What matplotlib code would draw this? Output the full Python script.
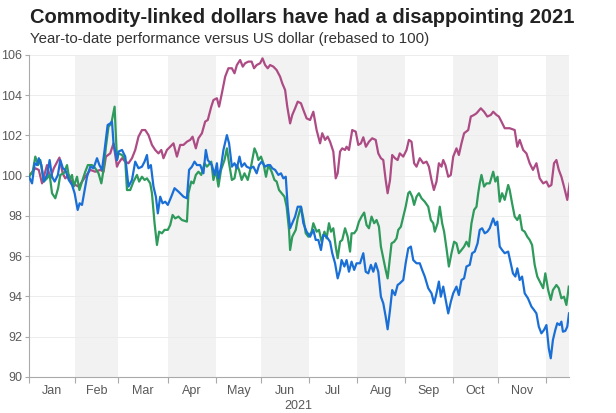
import numpy as np
import matplotlib
matplotlib.use("Agg")
import matplotlib.pyplot as plt

# x values are trading-day indices counted from 1 Jan 2021 (weekdays only)
MONTHS = ["Jan", "Feb", "Mar", "Apr", "May", "Jun", "Jul", "Aug", "Sep", "Oct", "Nov"]
MONTH_STARTS = ["2021-01-01", "2021-02-01", "2021-03-01", "2021-04-01", "2021-05-01",
                "2021-06-01", "2021-07-01", "2021-08-01", "2021-09-01", "2021-10-01",
                "2021-11-01", "2021-12-01"]
X_END = 248.6
Y_TICKS = [90, 92, 94, 96, 98, 100, 102, 104, 106]

mag_x = [0, 2.9, 4.5, 6.0, 8.3, 9.8, 11.4, 14.0, 15.5, 16.7, 18.3, 19.8, 21.3, 22.9, 24.4,
         25.9, 28.2, 30.5, 32.8, 34.3, 35.4, 37.4, 38.9, 40.5,
         41.2, 42.8, 44.3, 45.8, 47.4, 48.9, 50.4, 52.0, 53.5, 55.0, 56.6, 58.1, 59.6, 60.9,
         61.9, 63.5, 65.0, 66.5, 68.1, 69.6, 71.1, 72.7, 74.2, 75.3, 76.8, 78.0, 79.6, 81.1, 82.3,
         83.9, 84.9, 86.5, 87.5, 88.8, 90.3, 91.8, 93.4, 94.6, 95.7, 97.2, 98.4, 99.5, 101.0,
         102.5, 103.6, 104.8, 106.4, 107.5, 108.7, 109.9, 111.0, 112.5, 114.0, 115.6, 116.6,
         117.9, 118.9, 120.2, 121.2, 122.5, 123.7,
         125.2, 126.3, 127.8, 129.4, 130.9, 131.7, 132.4, 134.0, 135.0, 136.3, 137.5, 138.6,
         140.1, 141.2, 142.1, 143.2, 144.2, 145.5, 146.2, 147.3, 148.8, 150.4, 151.6, 152.8,
         153.9, 155.1, 156.5, 158.0, 159.6, 160.8, 162.0, 163.1, 164.2, 165.1,
         166.2, 167.2, 168.5, 169.7, 170.7, 172.3, 173.8, 174.9, 176.1, 177.3, 178.4, 179.9,
         181.5, 183.0, 184.1, 185.3, 186.4, 187.6, 188.7, 189.9, 190.7, 191.7, 193.0, 194.2,
         195.3, 196.8, 197.9, 199.1, 200.3, 202.2, 203.4, 204.9, 206.0,
         208.0, 209.5, 211.0, 212.6, 213.7, 215.2, 216.3, 217.5, 219.0, 221.3, 223.6, 224.8,
         225.9, 227.5, 229.0, 230.5, 232.0, 233.6, 235.1, 236.7, 238.2, 239.3, 240.5, 241.7,
         242.8, 243.9, 245.1, 246.3, 247.8, 248.9]
mag_y = [100.0, 100.37, 100.29, 99.62, 100.53, 99.87, 100.37, 100.90, 100.12, 99.87, 100.04,
         99.62, 99.54, 99.46, 99.71, 99.95, 100.29, 100.20, 100.29, 100.20, 100.95, 101.11,
         101.61, 100.45,
         100.62, 100.87, 100.70, 100.62, 100.87, 101.28, 101.94, 102.27, 102.27, 102.02, 101.53,
         101.28, 101.11, 101.28, 100.87, 101.28, 101.44, 101.61, 100.95, 101.53, 101.53, 101.69,
         101.78, 101.94, 101.36, 101.86, 102.11, 102.69, 102.77,
         103.43, 103.76, 103.85, 103.43, 104.10, 104.92, 105.34, 105.34, 105.09, 105.50, 105.75,
         105.42, 105.59, 105.67, 105.67, 105.34, 105.50, 105.59, 105.83, 105.50, 105.34, 105.50,
         105.42, 105.25, 104.92, 104.59, 104.26, 103.43, 102.60, 103.02, 103.35, 103.68,
         103.60, 103.27, 102.85, 102.77, 103.18, 102.69, 102.27, 101.61, 102.11, 101.78, 101.94,
         101.69, 101.20, 99.87, 100.12, 101.20, 101.36, 101.28, 101.44, 101.28, 102.27, 102.19,
         101.53, 101.61, 101.91, 101.44, 101.69, 101.86, 101.78, 101.11, 100.87, 100.78, 99.79,
         99.13,
         99.79, 101.03, 100.87, 100.78, 101.11, 100.95, 101.28, 101.78, 101.69, 100.62, 100.45,
         100.87, 100.62, 100.70, 100.45, 99.79, 99.29, 99.71, 100.62, 100.45, 100.78, 100.53,
         99.95, 100.04, 100.95, 101.36, 101.03, 101.61, 102.11, 102.27, 102.94, 103.02, 103.10,
         103.35, 103.18, 102.94, 103.02, 103.18, 103.02, 102.94, 102.69, 102.36, 102.36, 102.27,
         101.44, 101.78, 101.28, 101.11, 100.62, 100.29, 100.62, 99.87, 99.62, 99.71, 99.46,
         99.54, 100.62, 100.78, 100.29, 99.95, 99.46, 98.80, 99.62]

grn_x = [0, 1.7, 2.9, 4.2, 5.2, 6.8, 8.3, 9.5, 10.6, 12.1, 13.4, 14.4, 16.0, 17.5, 18.6, 19.8,
         20.6, 22.1, 23.2, 24.4, 25.9, 27.1, 29.0, 30.5, 32.0, 33.3, 34.3, 35.4, 36.6, 37.9,
         39.4, 40.5,
         41.2, 42.8, 44.3, 45.1, 46.6, 48.1, 49.7, 50.7, 52.0, 53.2, 54.3, 55.8, 56.6, 57.8,
         58.9, 59.9, 61.2, 62.4, 63.9, 65.0, 66.1, 67.3, 68.8, 70.4, 72.7, 73.4, 74.7, 75.7,
         76.8, 78.0, 79.3, 80.8, 81.9,
         82.6, 83.9, 84.9, 86.0, 87.2, 88.4, 90.0, 91.1, 92.1, 93.4, 94.6, 95.7, 96.7, 97.9,
         99.2, 100.7, 102.2, 103.8, 104.8, 105.6, 106.8, 107.9, 109.1, 110.2, 111.7, 113.0,
         114.0, 115.1, 116.3, 117.6, 118.6, 119.7, 120.2, 121.2, 122.8, 123.7,
         125.2, 126.3, 127.4, 128.6, 130.1, 130.9, 132.4, 133.5, 134.7, 136.0, 137.0, 138.1,
         139.0, 140.1, 141.2, 142.1, 143.2, 144.2, 145.5, 146.7, 147.8, 148.5, 149.7, 150.8,
         151.9, 153.1, 154.3, 155.4, 156.5, 157.7, 158.9, 160.0, 161.1, 162.0, 163.1, 164.2,
         165.1,
         166.9, 168.1, 169.2, 170.0, 171.2, 172.3, 173.4, 174.6, 175.3, 176.4, 177.3, 178.4,
         179.5, 180.7, 182.2, 183.8, 185.0, 186.1, 186.8, 188.1, 189.1, 190.2, 191.1, 192.2,
         193.3, 194.5, 195.7, 196.8, 197.9, 199.1, 200.3, 201.4, 202.5, 203.7, 204.9, 206.0,
         206.8, 207.5, 208.3, 209.5, 210.6, 212.1, 213.7, 214.7, 215.7, 216.7, 217.8, 219.0,
         220.6, 221.3, 222.4, 223.6, 224.8, 225.9, 227.0, 228.2, 229.4, 230.5, 231.6, 232.8,
         234.0, 235.6, 236.7, 237.7, 239.0, 240.2, 241.2, 242.8, 243.9, 245.1, 246.3, 247.4,
         248.5]
grn_y = [99.95, 100.20, 100.95, 100.53, 100.78, 99.71, 99.87, 100.04, 99.13, 98.88, 99.38,
         100.04, 100.12, 100.53, 99.79, 100.04, 99.46, 99.95, 99.29, 99.71, 100.20, 100.53,
         100.53, 100.37, 100.12, 99.62, 100.29, 101.44, 102.44, 102.60, 103.43, 100.78,
         101.11, 101.03, 100.78, 99.29, 99.29, 99.71, 100.04, 99.71, 99.95, 99.79, 99.87, 99.62,
         99.13, 97.64, 96.56, 97.22, 97.14, 97.31, 97.31, 97.55, 98.05, 97.88, 97.97, 97.80,
         97.72, 99.13, 99.71, 99.62, 100.04, 100.20, 100.04, 100.62, 100.45,
         100.53, 100.70, 99.79, 100.29, 99.46, 100.29, 100.78, 101.36, 100.62, 99.79, 99.87,
         100.53, 100.29, 99.79, 100.12, 99.79, 100.45, 101.36, 101.11, 100.78, 100.95, 100.62,
         99.95, 100.53, 100.20, 99.79, 99.71, 99.29, 99.13, 98.96, 98.46, 97.31, 96.31, 96.97,
         97.31, 97.88,
         98.46, 97.88, 97.14, 96.97, 97.22, 97.64, 97.22, 97.31, 96.72, 97.22, 96.89, 97.64,
         97.22, 97.39, 96.48, 95.90, 96.72, 96.81, 97.39, 96.97, 96.23, 97.14, 97.14, 97.31,
         97.72, 97.97, 98.17, 97.55, 97.39, 97.97, 97.64, 97.80, 97.47, 96.48, 95.90, 95.32,
         94.90,
         96.64, 96.72, 96.89, 97.31, 97.47, 97.97, 98.46, 99.13, 99.21, 98.96, 98.55, 98.96,
         99.13, 98.88, 98.71, 98.46, 97.80, 97.64, 97.22, 97.64, 98.46, 97.64, 97.22, 96.39,
         95.49, 96.15, 96.72, 96.64, 96.15, 96.31, 96.48, 96.72, 96.48, 97.64, 98.30, 98.46,
         99.13, 99.62, 100.04, 99.46, 99.62, 99.62, 100.20, 99.71, 99.95, 98.71, 99.13, 98.80,
         99.54, 99.29, 98.63, 97.97, 97.80, 98.05, 97.31, 97.22, 96.97, 96.81, 96.56, 95.57,
         94.99, 94.65, 94.41, 95.15, 94.32, 93.83, 94.32, 94.57, 94.41, 93.91, 93.99, 93.58,
         94.49]

blu_x = [0, 1.4, 2.6, 3.7, 4.5, 5.7, 6.8, 8.3, 9.5, 10.6, 11.8, 13.3, 14.4, 15.6, 16.7, 18.3,
         19.8, 21.0, 22.4, 23.3, 24.4, 25.6, 26.7, 28.2, 29.7, 31.3, 32.4, 33.6, 34.8, 36.2,
         37.4, 38.2, 38.9, 40.5,
         41.2, 42.8, 44.3, 45.8, 47.4, 48.9, 50.4, 52.0, 53.2, 54.3, 55.0, 56.1, 57.3, 58.4,
         59.3, 60.4, 61.5, 62.7, 63.9, 65.5, 67.0, 68.8, 71.1, 72.7, 73.7, 75.0, 76.2, 77.3,
         78.8, 80.3, 81.4, 82.3,
         84.2, 85.4, 86.5, 87.2, 88.4, 89.5, 91.1, 92.1, 93.4, 94.6, 95.7, 96.9, 97.9, 99.2,
         100.2, 101.8, 103.3, 104.8, 105.9, 107.1, 108.7, 109.9, 111.0, 112.0, 113.3, 114.8,
         116.0, 117.1, 118.2, 119.1, 120.2, 121.2, 122.5, 123.7,
         125.2, 126.3, 127.8, 129.4, 130.9, 132.0, 133.2, 134.4, 135.5, 137.0, 138.6, 139.6,
         140.9, 142.1, 143.2, 143.9, 145.2, 146.2, 147.3, 148.5, 149.7, 150.8, 152.4, 153.9,
         155.0, 156.2, 157.4, 158.5, 159.6, 160.8, 162.0, 163.1, 164.2, 165.1,
         166.2, 167.2, 168.5, 169.7, 170.7, 172.3, 173.4, 174.6, 175.8, 176.9, 178.4, 179.9,
         181.0, 182.2, 183.8, 185.3, 186.5, 187.6, 188.7, 189.6, 190.7, 191.7, 193.0, 194.2,
         195.3, 196.8, 197.9, 199.1, 200.3, 201.4, 202.9, 204.0, 205.2, 206.5,
         207.5, 208.6, 209.8, 211.0, 212.1, 213.7, 214.7, 215.6, 216.7, 217.8, 219.0, 220.6,
         221.8, 222.8, 223.9, 224.8, 225.9, 227.0, 228.2, 229.7, 231.3, 232.5, 233.6, 234.7,
         235.9, 237.1, 238.2, 239.3, 240.2, 241.2, 242.3, 243.2, 244.3, 245.1, 245.8, 246.9,
         247.8, 248.6]
blu_y = [99.95, 99.62, 100.62, 100.53, 100.87, 100.53, 99.71, 100.04, 100.78, 99.95, 99.71,
         100.04, 100.78, 100.37, 100.29, 99.79, 99.54, 99.13, 98.30, 98.63, 98.55, 99.29,
         99.95, 100.45, 100.37, 100.87, 100.53, 100.29, 101.28, 102.52, 102.60, 102.69,
         101.61, 100.78,
         101.20, 101.28, 100.95, 99.46, 99.79, 100.70, 100.37, 100.45, 100.70, 101.03, 100.37,
         100.53, 99.46, 98.96, 98.13, 98.96, 98.63, 98.71, 98.55, 98.96, 99.38, 99.21, 98.96,
         98.88, 100.29, 100.45, 100.70, 100.53, 100.53, 100.12, 101.28, 100.78,
         100.53, 100.04, 100.62, 99.87, 100.45, 101.28, 102.02, 101.61, 100.45, 100.62, 100.37,
         100.95, 100.45, 100.62, 100.45, 100.37, 100.45, 100.12, 100.53, 100.70, 100.45,
         100.53, 100.53, 100.37, 100.29, 100.04, 100.12, 99.87, 99.95, 98.46, 97.39, 97.64,
         97.97, 98.46,
         98.46, 97.64, 97.22, 96.97, 97.31, 96.81, 96.81, 96.31, 97.06, 96.97, 96.72, 96.15,
         95.65, 94.90, 95.32, 95.81, 95.49, 95.81, 95.23, 95.73, 95.32, 95.65, 95.65, 96.15,
         95.23, 95.15, 95.57, 95.23, 95.65, 95.23, 93.99, 93.66, 93.00, 92.37,
         93.33, 94.32, 94.07, 94.57, 94.65, 94.82, 95.65, 96.39, 96.48, 95.81, 95.65, 95.65,
         95.32, 94.99, 94.41, 94.16, 93.66, 94.16, 94.74, 93.99, 94.49, 93.91, 93.16, 93.74,
         94.16, 94.49, 94.07, 94.82, 94.90, 95.49, 95.57, 96.15, 96.23, 96.64,
         97.31, 97.39, 97.14, 97.22, 97.39, 97.88, 97.55, 97.72, 96.48, 96.31, 96.15, 96.23,
         95.65, 95.15, 94.99, 95.40, 94.82, 94.99, 94.16, 93.91, 93.50, 93.33, 93.16, 92.50,
         92.17, 92.34, 92.58, 91.42, 90.93, 91.84, 92.34, 92.67, 92.58, 92.75, 92.25, 92.29,
         92.50, 93.16]

MAG = "#ad4b84"
GRN = "#2e9a5b"
BLU = "#1a6fd6"
TXT = "#595959"

plt.rcParams["font.family"] = ["Liberation Sans", "DejaVu Sans"]

fig = plt.figure(figsize=(6.16, 4.13), dpi=100)
ax = fig.add_axes([0.0471, 0.0872, 0.8766, 0.7797])

starts = np.busday_count("2021-01-01", MONTH_STARTS)
edges = list(starts) + [X_END]

# alternate month shading (Feb, Apr, ...)
for i in range(1, len(edges) - 1, 2):
    ax.axvspan(edges[i], edges[i + 1], color="#f2f2f2", lw=0, zorder=0)

for yv in Y_TICKS[1:]:
    ax.axhline(yv, color="#ececec", lw=0.7, zorder=0.5)

ax.plot(mag_x, mag_y, color=MAG, lw=1.6, zorder=3)
ax.plot(grn_x, grn_y, color=GRN, lw=1.6, zorder=3)
ax.plot(blu_x, blu_y, color=BLU, lw=1.6, zorder=3)

ax.set_xlim(0, X_END)
ax.set_ylim(90, 106)
ax.set_yticks(Y_TICKS)
ax.set_yticklabels([str(v) for v in Y_TICKS])

ax.set_xticks(starts)
ax.set_xticklabels([])
mids = [(edges[i] + edges[i + 1]) / 2 for i in range(len(MONTHS))]
ax.set_xticks(mids, minor=True)
ax.set_xticklabels(MONTHS, minor=True)
ax.tick_params(axis="x", which="minor", length=0, pad=6, labelsize=9, labelcolor=TXT)
ax.tick_params(axis="x", which="major", length=4, color="#aaaaaa")
ax.tick_params(axis="y", length=3, color="#aaaaaa", labelsize=9, labelcolor=TXT, pad=2)

for s in ["top", "right"]:
    ax.spines[s].set_visible(False)
for s in ["left", "bottom"]:
    ax.spines[s].set_color("#aaaaaa")
    ax.spines[s].set_linewidth(0.8)

fig.text(0.0487, 0.958, "Commodity-linked dollars have had a disappointing 2021",
         fontsize=14.5, fontweight="bold", color="#222222", va="center", ha="left")
fig.text(0.0487, 0.905, "Year-to-date performance versus US dollar (rebased to 100)",
         fontsize=10.8, color="#333333", va="center", ha="left")
fig.text(0.485, 0.017, "2021", fontsize=9, color=TXT, ha="center", va="center")

fig.savefig("out.png", dpi=100)
